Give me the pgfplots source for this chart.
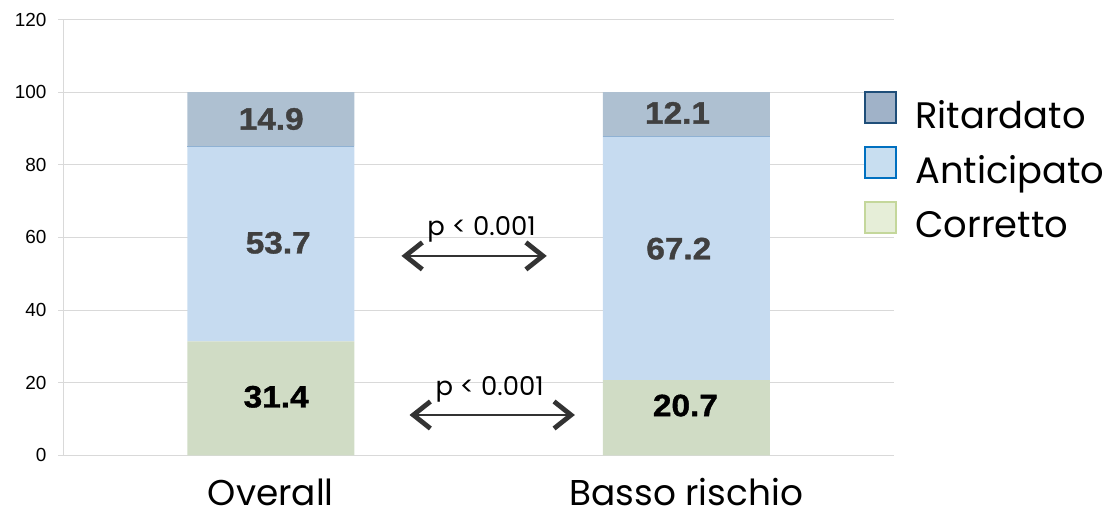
\documentclass[border=0pt]{standalone}
\usepackage{fontspec}
\setmainfont{Liberation Sans}
\newfontfamily\geo{Poppins}
\newfontfamily\valfont{Liberation Sans}[FakeStretch=1.08, FakeBold=1.2, BoldFont={Liberation Sans Bold}]
\usepackage{pgfplots}
\pgfplotsset{compat=1.18}
\usetikzlibrary{arrows.meta}

\definecolor{gridgray}{HTML}{D9D9D9}
\definecolor{ritBar}{HTML}{AEC0D1}
\definecolor{antBar}{HTML}{C6DBF0}
\definecolor{corBar}{HTML}{D0DCC5}
\definecolor{antTop}{HTML}{8FB1D3}
\definecolor{ritEdge}{HTML}{1F4E79}
\definecolor{ritFill}{HTML}{A0B2C8}
\definecolor{antEdge}{HTML}{0070C0}
\definecolor{antFill}{HTML}{C8DEF0}
\definecolor{corEdge}{HTML}{C4D79B}
\definecolor{corFill}{HTML}{E6EED8}
\definecolor{valGray}{HTML}{404040}
\definecolor{arrowGray}{HTML}{333333}

\tikzset{
  barval/.style={font=\valfont\bfseries\fontsize{31}{31}\selectfont, anchor=center, inner sep=0pt},
  pval/.style={anchor=base, font=\geo\fontsize{26}{26}\selectfont, inner sep=0pt},
  cmp/.style={arrowGray, line width=1.4bp,
    {Straight Barb[length=17bp, width=27bp, line width=4.8bp]}-{Straight Barb[length=17bp, width=27bp, line width=4.8bp]}},
}
\newcommand{\lgd}[1]{\raisebox{0pt}[27bp][8bp]{#1}}

\begin{document}
\begin{tikzpicture}
\path[use as bounding box] (0,0) rectangle (1107bp,514bp);
\begin{axis}[
  at={(63bp,58.7bp)}, anchor=south west,
  scale only axis, width=831bp, height=435.8bp,
  ybar stacked, bar width=167bp,
  xmin=-0.5, xmax=1.5, ymin=0, ymax=120,
  xtick={0,1}, xticklabels={Overall, Basso rischio},
  ytick={0,20,...,120},
  axis x line*=bottom, axis y line*=left,
  axis line style={draw=gridgray, line width=1bp},
  ymajorgrids, grid style={draw=gridgray, line width=1bp},
  xtick style={draw=none},
  ytick style={draw=gridgray, line width=1bp},
  tick align=outside, major tick length=5bp,
  yticklabel style={font=\fontsize{19}{19}\selectfont, xshift=-8bp,
    /pgf/number format/assume math mode=true},
  xticklabel style={font=\geo\fontsize{36}{36}\selectfont, anchor=base,
    text depth=0pt, yshift=-45bp},
  reverse legend,
  legend cell align=left,
  legend style={at={(0.9639,0.8359)}, anchor=north west, draw=none, fill=none,
    inner sep=0pt, row sep=16bp,
    font=\geo\fontsize{37}{37}\selectfont,
    nodes={inner sep=0pt},
    /tikz/every odd column/.append style={column sep=18bp}},
  % annotations go on top of the (deferred) stacked bars
  after end axis/.code={
    % thin edge between the Anticipato and Ritardato segments
    \draw[antTop, line width=1bp] (axis cs:-0.2013,85.1) -- (axis cs:0.2013,85.1);
    \draw[antTop, line width=1bp] (axis cs:0.7987,87.9) -- (axis cs:1.2013,87.9);
    % segment values
    \node[barval, text=valGray] at (axis cs:0.001,92.6) {14.9};
    \node[barval, text=valGray] at (axis cs:0.018,58.5) {53.7};
    \node[barval, text=black]   at (axis cs:0.013,16.1) {31.4};
    \node[barval, text=valGray] at (axis cs:0.979,94.3) {12.1};
    \node[barval, text=valGray] at (axis cs:0.982,56.9) {67.2};
    \node[barval, text=black]   at (axis cs:0.998,13.7) {20.7};
    % comparison arrows with significance labels
    \draw[cmp] (axis cs:0.3146,54.9) -- (axis cs:0.6643,54.9);
    \node[pval] at (axis cs:0.5075,60.66) {p < 0.001};
    \draw[cmp] (axis cs:0.334,11.1) -- (axis cs:0.732,11.1);
    \node[pval] at (axis cs:0.5268,16.6) {p < 0.001};
  },
]
\addplot[fill=corBar, draw=none,
  legend image code/.code={\draw[draw=corEdge, fill=corFill, line width=2bp] (0bp,-7.5bp) rectangle (31bp,23.5bp);}]
  coordinates {(0,31.4) (1,20.7)};
\addplot[fill=antBar, draw=none,
  legend image code/.code={\draw[draw=antEdge, fill=antFill, line width=2bp] (0bp,-7.5bp) rectangle (31bp,23.5bp);}]
  coordinates {(0,53.7) (1,67.2)};
\addplot[fill=ritBar, draw=none,
  legend image code/.code={\draw[draw=ritEdge, fill=ritFill, line width=2bp] (0bp,-7.5bp) rectangle (31bp,23.5bp);}]
  coordinates {(0,14.9) (1,12.1)};
\legend{\lgd{Corretto}, \lgd{Anticipato}, \lgd{Ritardato}}
\end{axis}
\end{tikzpicture}
\end{document}
